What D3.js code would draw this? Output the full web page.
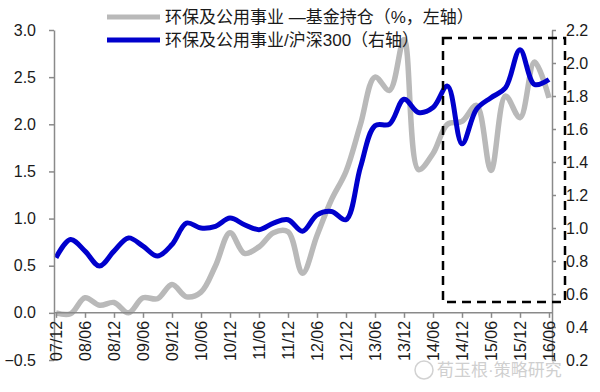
<!DOCTYPE html>
<html lang="zh">
<head>
<meta charset="utf-8">
<title>环保及公用事业</title>
<script src="https://d3js.org/d3.v7.min.js"></script>
<style>
    body { margin: 0; background: #fff; }
    text { font-family: "Liberation Sans", Arial, "Noto Sans CJK SC", sans-serif; }
</style>
</head>
<body>
<script>
var w = 600;
var h = 392;

// quarterly data, 07/12 .. 16/06
var quarters = ["07/12", "08/03", "08/06", "08/09", "08/12", "09/03", "09/06", "09/09", "09/12",
    "10/03", "10/06", "10/09", "10/12", "11/03", "11/06", "11/09", "11/12",
    "12/03", "12/06", "12/09", "12/12", "13/03", "13/06", "13/09", "13/12",
    "14/03", "14/06", "14/09", "14/12", "15/03", "15/06", "15/09", "15/12", "16/03", "16/06"];

// fund holding, % (left axis)
var fundHolding = [0.00, -0.01, 0.16, 0.08, 0.11, 0.00, 0.16, 0.15, 0.30,
    0.17, 0.22, 0.50, 0.85, 0.63, 0.70, 0.85, 0.86,
    0.42, 0.82, 1.20, 1.50, 2.00, 2.50, 2.36, 2.90,
    1.52, 1.69, 2.00, 2.03, 2.20, 1.51, 2.30, 2.07, 2.66, 2.28];

// sector / CSI300 ratio (right axis)
var relRatio = [0.82, 0.93, 0.86, 0.77, 0.86, 0.94, 0.89, 0.83, 0.90,
    1.03, 1.00, 1.01, 1.06, 1.02, 0.99, 1.03, 1.05,
    0.98, 1.08, 1.10, 1.05, 1.37, 1.62, 1.63, 1.78,
    1.70, 1.73, 1.86, 1.51, 1.72, 1.79, 1.85, 2.08, 1.87, 1.90];

var leftTicks = [-0.5, 0.0, 0.5, 1.0, 1.5, 2.0, 2.5, 3.0];
var rightTicks = [0.2, 0.4, 0.6, 0.8, 1.0, 1.2, 1.4, 1.6, 1.8, 2.0, 2.2];
var legendLabels = ["环保及公用事业 —基金持仓（%，左轴）", "环保及公用事业/沪深300（右轴）"];
var watermark = "荀玉根·策略研究";

var axisColor = "#8a8a8a";
var grayColor = "#b9b9b9";
var blueColor = "#0000cc";

var xScale = d3.scalePoint().domain(quarters).range([56, 549]);
var yLeft = d3.scaleLinear().domain([-0.5, 3.0]).range([360, 30]);
var yRight = d3.scaleLinear().domain([0.2, 2.2]).range([360, 30]);

var svg = d3.select("body")
    .append("svg")
    .attr("width", w)
    .attr("height", h);

// lines
var grayLine = d3.line()
    .x(function(d, i) { return xScale(quarters[i]); })
    .y(function(d) { return yLeft(d); })
    .curve(d3.curveCatmullRom.alpha(0.5));

var blueLine = d3.line()
    .x(function(d, i) { return xScale(quarters[i]); })
    .y(function(d) { return yRight(d); })
    .curve(d3.curveCatmullRom.alpha(0.5));

svg.append("path")
    .datum(fundHolding)
    .attr("fill", "none")
    .attr("stroke", grayColor)
    .attr("stroke-width", 5.5)
    .attr("stroke-linejoin", "round")
    .attr("d", grayLine);

svg.append("path")
    .datum(relRatio)
    .attr("fill", "none")
    .attr("stroke", blueColor)
    .attr("stroke-width", 5)
    .attr("stroke-linejoin", "round")
    .attr("d", blueLine);

// axes
var leftAxis = svg.append("g")
    .attr("transform", "translate(54,0)")
    .call(d3.axisLeft(yLeft).tickValues(leftTicks).tickFormat(d3.format(".1f"))
        .tickSize(5).tickSizeOuter(0).tickPadding(13));

var rightAxis = svg.append("g")
    .attr("transform", "translate(552,0)")
    .call(d3.axisRight(yRight).tickValues(rightTicks).tickFormat(d3.format(".1f"))
        .tickSize(4).tickSizeOuter(0).tickPadding(10));

var xAxis = svg.append("g")
    .attr("transform", "translate(0," + yLeft(0) + ")")
    .call(d3.axisBottom(xScale)
        .tickValues(quarters.filter(function(q) { return q.slice(3) === "06" || q.slice(3) === "12"; }))
        .tickSize(5).tickSizeOuter(0));

xAxis.select(".domain").remove();
xAxis.append("line")
    .attr("x1", 54).attr("x2", 552)
    .attr("stroke", axisColor)
    .attr("stroke-width", 1.5);

xAxis.selectAll("text")
    .attr("transform", "rotate(-90)")
    .attr("text-anchor", "end")
    .attr("x", -8)
    .attr("y", 0)
    .attr("dy", "0.35em");

[leftAxis, rightAxis, xAxis].forEach(function(g) {
    g.selectAll(".domain, .tick line").attr("stroke", axisColor).attr("stroke-width", 1.5);
    g.selectAll("text").attr("fill", "#1a1a1a").style("font-size", "16px");
});

// dashed highlight box
svg.append("rect")
    .attr("x", 443)
    .attr("y", 38)
    .attr("width", 122)
    .attr("height", 264)
    .attr("fill", "none")
    .attr("stroke", "#000")
    .attr("stroke-width", 2.5)
    .attr("stroke-dasharray", "9,6");

// legend
var legendColors = [grayColor, blueColor];
var legend = svg.selectAll(".legend")
    .data(legendLabels)
    .enter()
    .append("g")
    .attr("class", "legend")
    .attr("transform", function(d, i) { return "translate(107," + (17 + i * 23) + ")"; });

legend.append("line")
    .attr("x1", 0).attr("x2", 53)
    .attr("stroke", function(d, i) { return legendColors[i]; })
    .attr("stroke-width", 5);

legend.append("text")
    .attr("x", 58)
    .attr("dy", "0.35em")
    .style("font-size", "17px")
    .attr("fill", "#1a1a1a")
    .text(function(d) { return d; });

// watermark
svg.append("circle")
    .attr("cx", 424).attr("cy", 370).attr("r", 9)
    .attr("fill", "none").attr("stroke", "#d2d2d2").attr("stroke-width", 1.5);

svg.append("text")
    .attr("x", 437)
    .attr("y", 370)
    .attr("dy", "0.35em")
    .style("font-size", "17px")
    .attr("fill", "#cfcfcf")
    .text(watermark);
</script>
</body>
</html>
